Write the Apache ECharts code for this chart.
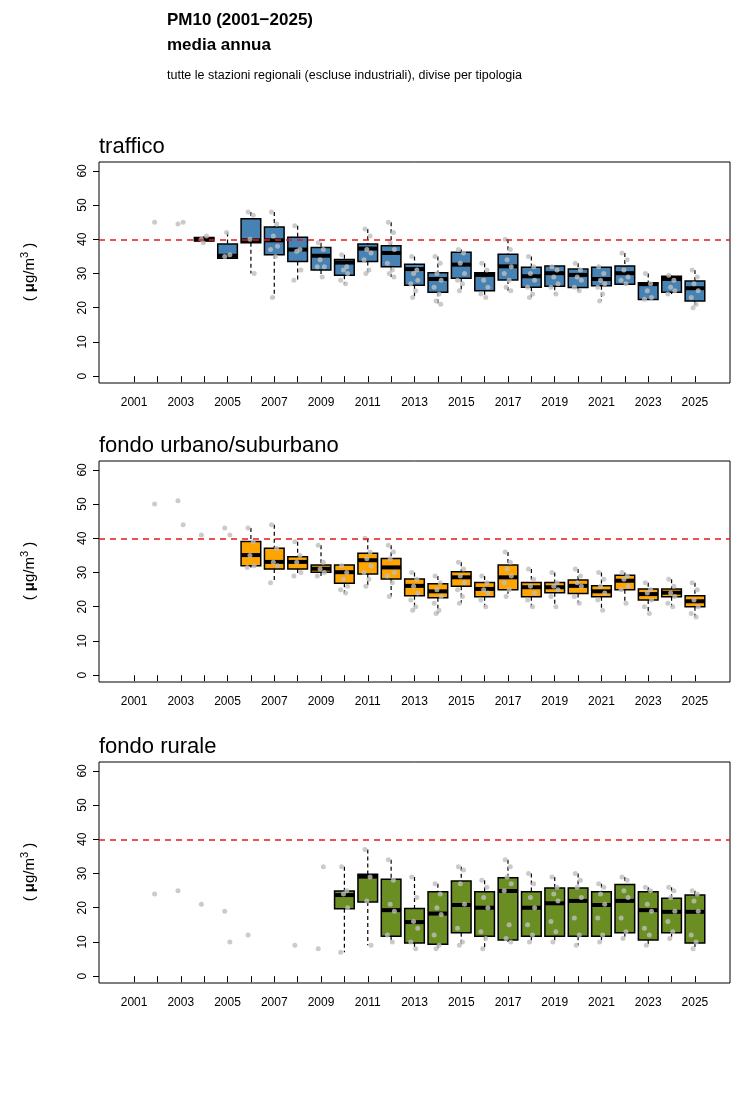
<!doctype html>
<html>
<head>
<meta charset="utf-8">
<title>PM10 2001-2025</title>
<script src="https://cdn.jsdelivr.net/npm/echarts@6/dist/echarts.min.js"></script>
<style>
  body{margin:0;background:#fff;}
  #main{width:750px;height:1109px;}
</style>
</head>
<body>
<div id="main"></div>
<script>
// anni e etichette
var years = [];
for (var y = 2001; y <= 2025; y++) years.push(y);
var yearLabels = [2001,2003,2005,2007,2009,2011,2013,2015,2017,2019,2021,2023,2025];
var yTicks = [0,10,20,30,40,50,60];
var limit = 40;

// box: [anno, q1, mediana, q3]
var trafficoBox = [
  [2004,39.5,40,40.5],[2005,34.5,35.2,38.6],[2006,39,39.7,46],[2007,35.5,39.7,43.6],
  [2008,33.5,37,40.6],[2009,31,35.2,37.6],[2010,29.5,33.2,34.1],[2011,33.5,37.3,38.6],
  [2012,32,36,38.1],[2013,26.6,31.3,32.7],[2014,24.5,28.4,30.2],[2015,28.6,32.6,36.2],
  [2016,25,29.6,30.2],[2017,28.1,32.1,35.6],[2018,26,29.2,31.8],[2019,26.3,30.1,32.2],
  [2020,25.9,29.6,31.3],[2021,26.4,28.4,31.8],[2022,26.9,30.1,32.2],[2023,22.4,26.9,27.3],
  [2024,24.5,28.4,29.2],[2025,22,25.7,27.8]
];
// punti (valori delle stazioni) per anno
var trafficoPts = {
  2002:[45],2003:[44.5,45],2004:[40,41,39],2005:[35,35.5,42],2006:[48,47,40,30],
  2007:[48,44.5,41,38,37,35,23],2008:[44,37,36.5,31,28],2009:[39,37,34,32,32,29],
  2010:[35.5,32,31,30,28,27],2011:[43,41,37,36,34,31,30],2012:[45,42,39,37,33,31,30,29],
  2013:[35,31,30,28,27,25,23],2014:[35,33,30,28,26,24,22,21],2015:[37,36,33,30,28,27,25],
  2016:[33,31,28,26,24,23],2017:[40,37,34,32,30,28,26,25],2018:[35,32,30,28,26,24,23],
  2019:[32,31,29,27,26,24],2020:[33,31,29,28,26,25],2021:[32,30,28,27,26,24,22],
  2022:[36,34,31,29,28,27],2023:[30,27,25,23,22.5],2024:[29.5,28,26,25,24],
  2025:[31,29,27,25,23,21,20]
};

var urbanoBox = [
  [2006,32,35.1,39.1],[2007,31,33.1,37.1],[2008,31,33.1,34.6],[2009,30.1,31.1,32.2],
  [2010,26.9,30.1,32.2],[2011,29.6,33.6,35.6],[2012,28.1,31.5,34.1],[2013,23.2,26.1,28.1],
  [2014,22.6,24.5,26.7],[2015,26,28.6,30.2],[2016,22.9,25.2,27.1],[2017,25,28.6,32.2],
  [2018,22.9,25.7,27.1],[2019,24.1,25.7,27.1],[2020,23.9,26.1,27.8],[2021,22.9,24.5,26.1],
  [2022,25,27.6,29.2],[2023,22,23.7,25.2],[2024,22.9,24.1,25.2],[2025,20,21.6,23.2]
];
var urbanoPts = {
  2002:[50],2003:[51,44],2004:[41],2005:[43,41],2006:[43,39,35,32,31.5],
  2007:[44,37,33,32,27],2008:[39,35,33,30,29],2009:[38,33,31,30,29],
  2010:[32,30,28,26,25,24],2011:[40,36,34,32,30,28,26],2012:[38,36,34,30,29,27,23],
  2013:[30,28,26,24,22,20,19],2014:[29,27,25,23,21,19,18],2015:[33,31,29,27,25,23,21],
  2016:[29,27,25,24,22,20],2017:[36,33,31,29,27,25,23],2018:[31,28,26,24,22,20],
  2019:[30,27,26,25,23,20],2020:[31,29,27,26,23,21],2021:[30,28,26,24,22,19],
  2022:[30,29,28,26,25,21],2023:[27,25,24,22,20,18],2024:[28,26,24,23,21,20],
  2025:[27,25,22,20,18,17]
};

var ruraleBox = [
  [2010,19.7,23.7,24.9],[2011,21.7,29.1,29.8],[2012,11.7,19.3,28.3],[2013,9.7,15.8,19.8],
  [2014,9.3,18.3,24.7],[2015,12.7,20.8,27.8],[2016,11.7,20,24.7],[2017,10.6,24.9,28.8],
  [2018,11.7,20,24.7],[2019,11.7,21.3,25.8],[2020,11.7,22,25.8],[2021,11.7,20.8,24.7],
  [2022,12.7,22,26.8],[2023,10.6,19.3,24.7],[2024,12.7,18.8,22.8],[2025,9.7,18.8,23.7]
];
var ruralePts = {
  2002:[24],2003:[25],2004:[21],2005:[19,10],2006:[12],2008:[9],2009:[8,32],
  2010:[32,25,24,20,7],2011:[37,29,22,9],2012:[34,28,21,19,12,10],2013:[29,23,16,14,10,8],
  2014:[27,24,20,18,12,9,8],2015:[32,31,27,21,14,10,9],2016:[28,26,23,20,13,11,8],
  2017:[34,32,29,27,25,15,11,10],2018:[30,27,23,20,15,12,10],2019:[29,26,24,22,16,13,10],
  2020:[30,28,26,23,17,12,9],2021:[27,26,24,21,17,12,10],2022:[29,28,25,23,17,13,11],
  2023:[26,25,21,19,14,12,9],2024:[26,25,23,19,16,13,11],2025:[25,24,22,19,12,10,8]
};

var jit = [-0.12,0.1,-0.04,0.14,-0.16,0.05,-0.08,0.12];

function boxData(box, pts){
  return box.map(function(b){
    var p = pts[b[0]] || [];
    var lo = Math.min.apply(null, p.concat([b[1]]));
    var hi = Math.max.apply(null, p.concat([b[3]]));
    return [b[0], b[1], b[2], b[3], lo, hi];
  });
}
function ptData(pts){
  var out = [];
  Object.keys(pts).forEach(function(k){
    pts[k].forEach(function(v, i){ out.push([+k + jit[i % jit.length], v]); });
  });
  return out;
}

var panels = [
  {title:'traffico', box:trafficoBox, pts:trafficoPts, color:'#4682B4', top:162},
  {title:'fondo urbano/suburbano', box:urbanoBox, pts:urbanoPts, color:'#FFA500', top:461},
  {title:'fondo rurale', box:ruraleBox, pts:ruralePts, color:'#6B8E23', top:762}
];

var grids = [], xAxes = [], yAxes = [], series = [];
var graphic = [
  {type:'text', left:167, top:12, style:{text:'PM10 (2001\u22122025)', font:'bold 17px Liberation Sans, Arial', fill:'#000'}},
  {type:'text', left:167, top:37, style:{text:'media annua', font:'bold 17px Liberation Sans, Arial', fill:'#000'}},
  {type:'text', left:167, top:69, style:{text:'tutte le stazioni regionali (escluse industriali), divise per tipologia', font:'12.5px Liberation Sans, Arial', fill:'#000'}}
];

panels.forEach(function(p, i){
  grids.push({left:99, right:20, top:p.top, height:221, show:true, borderColor:'#000', borderWidth:1, backgroundColor:'transparent'});
  xAxes.push({
    type:'value', gridIndex:i, min:1999.5, max:2026.5,
    axisLine:{show:false}, splitLine:{show:false},
    axisTick:{show:true, customValues:years, length:6, inside:false, lineStyle:{color:'#000'}},
    axisLabel:{customValues:yearLabels, color:'#000', fontSize:12, margin:14, fontFamily:'Liberation Sans, Arial',
      formatter:function(v){ return String(Math.round(v)); }}
  });
  yAxes.push({
    type:'value', gridIndex:i, min:-2, max:62.6,
    axisLine:{show:false}, splitLine:{show:false},
    axisTick:{show:true, customValues:yTicks, length:6, lineStyle:{color:'#000'}},
    axisLabel:{customValues:yTicks, color:'#000', fontSize:12, rotate:90, margin:10, fontFamily:'Liberation Sans, Arial'}
  });
  graphic.push({type:'text', left:99, top:p.top - 26, style:{text:p.title, font:'22px Liberation Sans, Arial', fill:'#000'}});
  graphic.push({type:'text', x:30, y:p.top + 110, rotation:Math.PI/2,
    style:{text:'( {m|\u03bc}g/m{s|3} )', font:'15px Liberation Sans, Arial', fill:'#000', align:'center', verticalAlign:'middle',
      rich:{m:{font:'bold 15px Liberation Sans, Arial', fill:'#000'}, s:{font:'11px Liberation Sans, Arial', fill:'#000', verticalAlign:'top', padding:[0,0,10,0]}}}});

  series.push({
    type:'custom', xAxisIndex:i, yAxisIndex:i, z:2,
    data: boxData(p.box, p.pts),
    renderItem: (function(color){
      return function(params, api){
        var x = api.value(0);
        var w = api.size([0.84, 0])[0];
        var pq1 = api.coord([x, api.value(1)]);
        var pm = api.coord([x, api.value(2)]);
        var pq3 = api.coord([x, api.value(3)]);
        var plo = api.coord([x, api.value(4)]);
        var phi = api.coord([x, api.value(5)]);
        var dash = {stroke:'#000', lineWidth:1.2, lineDash:[4,3]};
        return {type:'group', children:[
          {type:'line', shape:{x1:phi[0], y1:phi[1], x2:pq3[0], y2:pq3[1]}, style:dash},
          {type:'line', shape:{x1:pq1[0], y1:pq1[1], x2:plo[0], y2:plo[1]}, style:dash},
          {type:'rect', shape:{x:pq3[0]-w/2, y:pq3[1], width:w, height:pq1[1]-pq3[1]},
            style:{fill:color, stroke:'#000', lineWidth:1.5}},
          {type:'line', shape:{x1:pm[0]-w/2, y1:pm[1], x2:pm[0]+w/2, y2:pm[1]},
            style:{stroke:'#000', lineWidth:4}}
        ]};
      };
    })(p.color)
  });
  series.push({
    type:'scatter', xAxisIndex:i, yAxisIndex:i, z:3, symbolSize:5,
    itemStyle:{color:'#BEBEBE'}, data: ptData(p.pts), silent:true,
    markLine:{silent:true, symbol:'none', label:{show:false},
      lineStyle:{color:'#E41A1C', type:[6,5], width:1.5}, data:[{yAxis:limit}]}
  });
});

var myChart = echarts.init(document.getElementById('main'));
myChart.setOption({
  animation:false,
  backgroundColor:'#fff',
  grid:grids, xAxis:xAxes, yAxis:yAxes, series:series, graphic:graphic
});
</script>
</body>
</html>
